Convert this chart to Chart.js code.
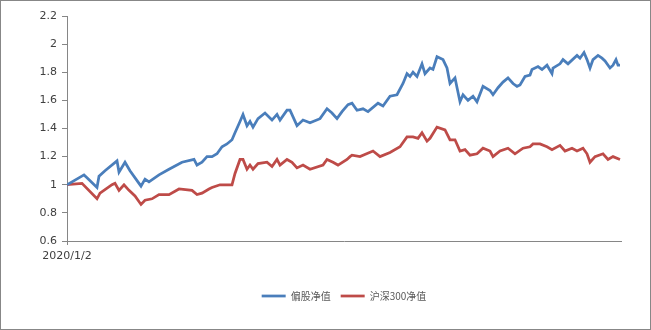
<!DOCTYPE html>
<html>
<head>
<meta charset="utf-8">
<script src="https://cdn.jsdelivr.net/npm/chart.js@4.4.1/dist/chart.umd.min.js"></script>
<style>
  html, body { margin: 0; padding: 0; background: #ffffff; }
  #wrap { position: relative; width: 651px; height: 330px; }
  #frame { position: absolute; left: 0; top: 0; width: 651px; height: 330px; box-sizing: border-box; border: 1px solid #878787; pointer-events: none; }
</style>
</head>
<body>
<div id="wrap">
  <canvas id="navChart" width="651" height="330"></canvas>
  <div id="frame"></div>
</div>
<script>
'use strict'

// trading day index (0 = 2020/1/2) and net value of the equity fund index
const fundDays = [0, 17, 20, 30, 32, 38, 50, 52, 58, 63, 72, 74, 78, 82, 92, 102, 115, 127, 130, 135,
  140, 145, 150, 155, 160, 165, 168, 173, 176, 180, 183, 186, 191, 198, 205, 210, 213, 220, 223, 230,
  236, 243, 253, 260, 265, 270, 275, 281, 285, 290, 296, 301, 311, 316, 323, 330, 336, 340, 343, 346,
  350, 355, 358, 363, 366, 370, 376, 380, 383, 388, 393, 396, 401, 406, 410, 416, 423, 426, 431, 436,
  441, 446, 450, 453, 458, 463, 465, 471, 475, 480, 485, 486, 493, 496, 501, 510, 513, 517, 520, 523,
  526, 531, 535, 538, 543, 546, 549, 551, 553]
const fundNav = [1.00, 1.07, 1.05, 0.98, 1.06, 1.10, 1.17, 1.09, 1.16, 1.10, 1.01, 0.99, 1.04, 1.02, 1.07, 1.11, 1.16, 1.18, 1.14, 1.16,
  1.20, 1.20, 1.22, 1.27, 1.29, 1.32, 1.37, 1.45, 1.50, 1.42, 1.45, 1.41, 1.47, 1.51, 1.46, 1.50, 1.46, 1.53, 1.53, 1.42,
  1.46, 1.44, 1.47, 1.54, 1.51, 1.47, 1.52, 1.57, 1.58, 1.53, 1.54, 1.52, 1.58, 1.56, 1.63, 1.64, 1.72, 1.79, 1.77, 1.80,
  1.77, 1.86, 1.79, 1.83, 1.82, 1.91, 1.89, 1.83, 1.72, 1.76, 1.59, 1.64, 1.60, 1.63, 1.59, 1.70, 1.67, 1.64, 1.69, 1.73,
  1.76, 1.72, 1.70, 1.71, 1.77, 1.78, 1.82, 1.84, 1.82, 1.85, 1.79, 1.83, 1.86, 1.89, 1.86, 1.92, 1.90, 1.94, 1.89, 1.83,
  1.89, 1.92, 1.90, 1.88, 1.83, 1.85, 1.89, 1.85, 1.85]

// CSI 300 net value
const csiDays = [0, 15, 30, 33, 45, 48, 52, 57, 62, 68, 74, 78, 85, 92, 102, 112, 125, 130, 135, 142,
  145, 153, 165, 168, 173, 176, 180, 183, 186, 191, 200, 205, 210, 213, 220, 225, 230, 236, 243, 256,
  260, 266, 271, 280, 283, 285, 293, 306, 313, 323, 333, 340, 346, 351, 355, 360, 363, 370, 378, 383,
  388, 393, 398, 403, 410, 416, 423, 426, 433, 441, 448, 456, 463, 466, 473, 480, 485, 493, 498, 505,
  510, 516, 520, 523, 528, 536, 541, 546, 553]
const csiNav = [1.00, 1.01, 0.90, 0.94, 1.00, 1.01, 0.96, 1.00, 0.96, 0.92, 0.86, 0.89, 0.90, 0.93, 0.93, 0.97, 0.96, 0.93, 0.94, 0.97,
  0.98, 1.00, 1.00, 1.08, 1.18, 1.18, 1.11, 1.14, 1.11, 1.15, 1.16, 1.13, 1.18, 1.14, 1.18, 1.16, 1.12, 1.14, 1.11, 1.14,
  1.18, 1.16, 1.14, 1.18, 1.20, 1.21, 1.20, 1.24, 1.20, 1.23, 1.27, 1.34, 1.34, 1.33, 1.37, 1.31, 1.33, 1.41, 1.39, 1.32,
  1.32, 1.24, 1.25, 1.21, 1.22, 1.26, 1.24, 1.20, 1.24, 1.26, 1.22, 1.26, 1.27, 1.29, 1.29, 1.27, 1.25, 1.28, 1.24, 1.26,
  1.24, 1.26, 1.22, 1.16, 1.20, 1.22, 1.18, 1.20, 1.18]

const seriesNames = ['偏股净值', '沪深300净值']
const dayLabels = { 0: '2020/1/2' }
const yTicks = [0.6, 0.8, 1, 1.2, 1.4, 1.6, 1.8, 2, 2.2]

function toPoints(days, values) {
  return days.map((d, i) => ({ x: d, y: values[i] }))
}

const axisColor = '#868686'
const tickFont = { family: 'DejaVu Sans', size: 11 }

const config = {
  type: 'line',
  data: {
    datasets: [
      {
        label: seriesNames[0],
        data: toPoints(fundDays, fundNav),
        borderColor: '#4a7ebb',
        backgroundColor: '#4a7ebb',
        borderWidth: 2.75,
        pointRadius: 0,
        tension: 0
      },
      {
        label: seriesNames[1],
        data: toPoints(csiDays, csiNav),
        borderColor: '#be4b48',
        backgroundColor: '#be4b48',
        borderWidth: 2.75,
        pointRadius: 0,
        tension: 0
      }
    ]
  },
  options: {
    responsive: false,
    animation: false,
    layout: { padding: { left: 0, top: 16, right: 30, bottom: 19 } },
    plugins: {
      tooltip: { enabled: false },
      legend: {
        position: 'bottom',
        fullSize: false,
        labels: {
          usePointStyle: true,
          pointStyle: 'line',
          pointStyleWidth: 24,
          padding: 10,
          color: '#595959',
          font: { family: 'Noto Sans CJK SC', size: 10 }
        }
      }
    },
    scales: {
      x: {
        type: 'linear',
        min: 0,
        max: 554,
        afterBuildTicks: axis => { axis.ticks = [{ value: 0 }] },
        afterFit: axis => { axis.height = 40 },
        grid: { drawOnChartArea: false, drawTicks: true, tickLength: 4, color: axisColor },
        border: { color: axisColor },
        ticks: {
          color: '#404040',
          font: tickFont,
          padding: 5,
          maxRotation: 0,
          callback: v => dayLabels[v] || ''
        }
      },
      y: {
        min: 0.6,
        max: 2.2,
        afterBuildTicks: axis => { axis.ticks = yTicks.map(v => ({ value: v })) },
        afterFit: axis => { axis.width = 67 },
        grid: { drawOnChartArea: false, drawTicks: true, tickLength: 5, color: axisColor },
        border: { color: axisColor },
        ticks: {
          color: '#404040',
          font: tickFont,
          padding: 5,
          callback: v => String(Math.round(v * 10) / 10)
        }
      }
    }
  }
}

const navChart = new Chart(document.getElementById('navChart'), config)
</script>
</body>
</html>
